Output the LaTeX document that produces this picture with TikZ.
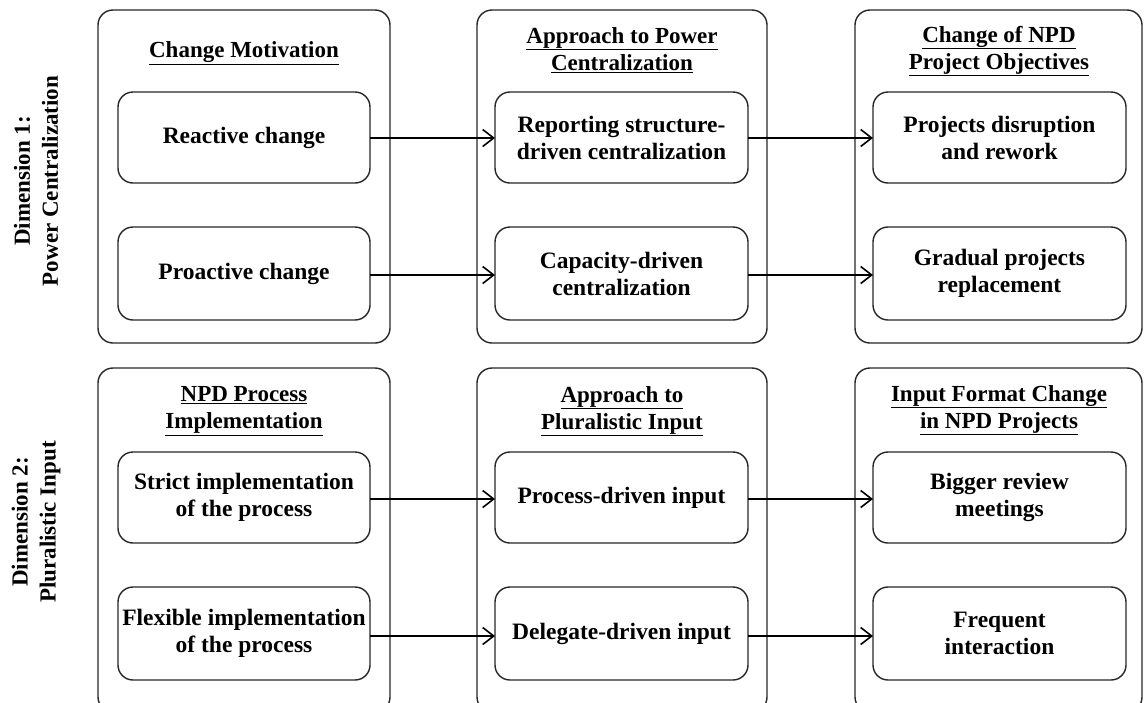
\documentclass[tikz,border=0pt]{standalone}
\usepackage{fontspec}
\setmainfont{Liberation Serif}
\usetikzlibrary{arrows.meta}
\begin{document}
\begin{tikzpicture}[x=1pt,y=-1pt,
  outerbox/.style={draw=black!85,line width=1.4pt,rounded corners=15pt},
  innerbox/.style={draw=black!85,line width=1.4pt,rounded corners=15pt,align=center,
    font=\fontsize{23.5}{27}\selectfont\bfseries,inner sep=0pt},
  titletext/.style={align=center,font=\fontsize{23}{27}\selectfont\bfseries,inner sep=0pt},
  dimtext/.style={align=center,rotate=90,font=\fontsize{23}{28}\selectfont\bfseries,inner sep=0pt},
  conn/.style={line width=1.6pt,-{Straight Barb[length=11pt,width=17pt,line width=1.6pt]}}]
\useasboundingbox (0,0) rectangle (1144,702);
\clip (0,0) rectangle (1144,702);
% outer boxes
\draw[outerbox] (98,10) rectangle (390,343);
\draw[outerbox] (477,10) rectangle (767,343);
\draw[outerbox] (855,10) rectangle (1142,343);
\draw[outerbox] (98,368) rectangle (390,712);
\draw[outerbox] (477,368) rectangle (767,712);
\draw[outerbox] (855,368) rectangle (1142,712);
% dimension labels
\node[dimtext] (d1) at (36,181) {Dimension 1:\\Power Centralization};
\node[dimtext] (d2) at (36,522) {Dimension 2:\\Pluralistic Input};
% titles
\node[titletext] (t1) at (244,53) {\underline{Change Motivation}};
\node[titletext] (t2) at (622,50) {\underline{Approach to Power}\\\underline{Centralization}};
\node[titletext] (t3) at (999,51) {\underline{Change of NPD}\\\underline{Project Objectives}};
\node[titletext] (t4) at (244,411) {\underline{NPD Process}\\\underline{Implementation}};
\node[titletext] (t5) at (622,411) {\underline{Approach to}\\\underline{Pluralistic Input}};
\node[titletext] (t6) at (999,410) {\underline{Input Format Change}\\\underline{in NPD Projects}};
% inner boxes
\draw[innerbox] (118,92) rectangle (370,183) node[midway] (a1) {Reactive change};
\draw[innerbox] (118,227) rectangle (370,320) node[midway] (a2) {Proactive change};
\draw[innerbox] (495,92) rectangle (748,183) node[midway] (b1) {Reporting structure-\\driven centralization};
\draw[innerbox] (495,227) rectangle (748,320) node[midway] (b2) {Capacity-driven\\centralization};
\draw[innerbox] (873,92) rectangle (1126,183) node[midway] (c1) {Projects disruption\\and rework};
\draw[innerbox] (873,227) rectangle (1126,320) node[midway] (c2) {Gradual projects\\replacement};
\draw[innerbox] (118,452) rectangle (370,543) node[midway] (a3) {Strict implementation\\of the process};
\draw[innerbox] (118,587) rectangle (370,680) node[midway] (a4) {Flexible implementation\\of the process};
\draw[innerbox] (495,452) rectangle (748,543) node[midway] (b3) {Process-driven input};
\draw[innerbox] (495,587) rectangle (748,680) node[midway] (b4) {Delegate-driven input};
\draw[innerbox] (873,452) rectangle (1126,543) node[midway] (c3) {Bigger review\\meetings};
\draw[innerbox] (873,587) rectangle (1126,680) node[midway] (c4) {Frequent\\interaction};
% anchor coordinates for connectors
\coordinate (a1r) at (370,138); \coordinate (b1l) at (495,138);
\coordinate (b1r) at (748,138); \coordinate (c1l) at (873,138);
\coordinate (a2r) at (370,275); \coordinate (b2l) at (495,275);
\coordinate (b2r) at (748,275); \coordinate (c2l) at (873,275);
\coordinate (a3r) at (370,499); \coordinate (b3l) at (495,499);
\coordinate (b3r) at (748,499); \coordinate (c3l) at (873,499);
\coordinate (a4r) at (370,636); \coordinate (b4l) at (495,636);
\coordinate (b4r) at (748,636); \coordinate (c4l) at (873,636);
\draw[conn] (a1r) -- (b1l);
\draw[conn] (b1r) -- (c1l);
\draw[conn] (a2r) -- (b2l);
\draw[conn] (b2r) -- (c2l);
\draw[conn] (a3r) -- (b3l);
\draw[conn] (b3r) -- (c3l);
\draw[conn] (a4r) -- (b4l);
\draw[conn] (b4r) -- (c4l);
\end{tikzpicture}
\end{document}
